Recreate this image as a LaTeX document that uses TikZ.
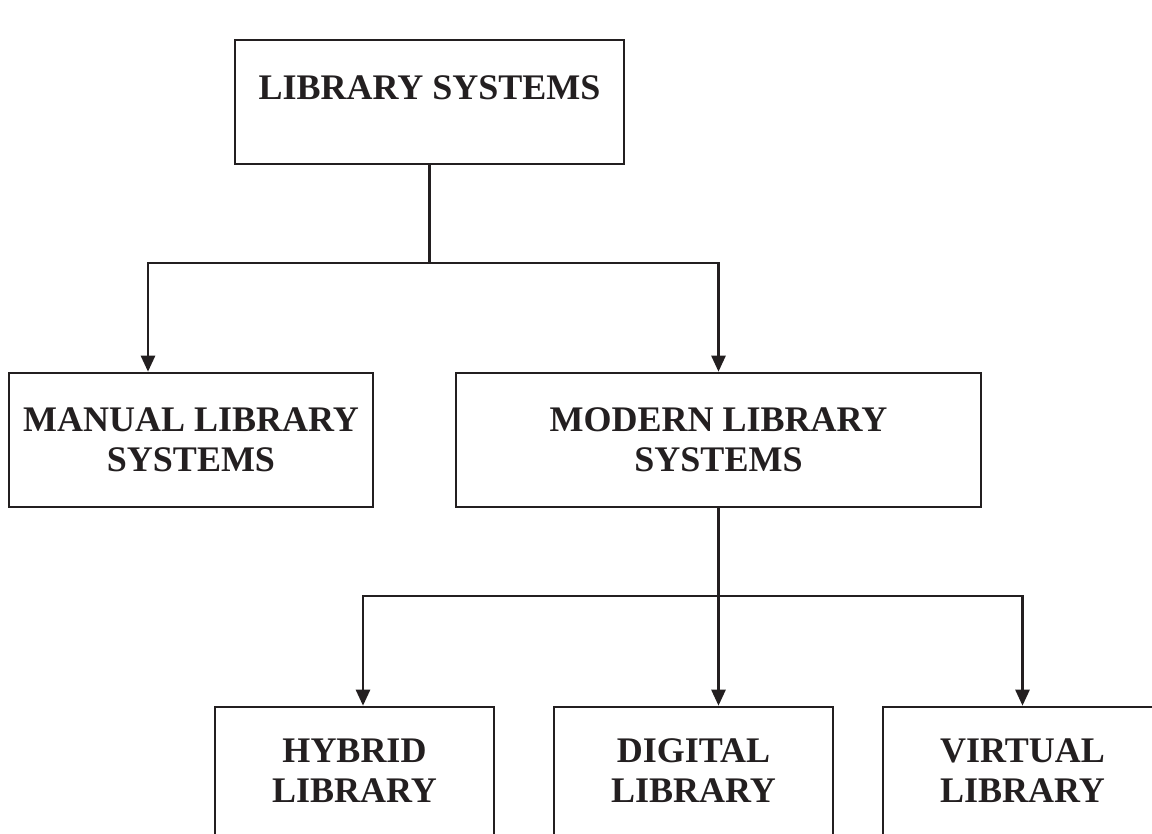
\documentclass[tikz,border=0pt]{standalone}
\usepackage{fontspec}
\setmainfont{Liberation Serif}
\usetikzlibrary{arrows.meta}
\definecolor{ink}{RGB}{35,31,32}

\begin{document}
\begin{tikzpicture}[x=1pt,y=-1pt,
    box/.style={draw=ink,line width=2.6pt,text=ink,align=center,inner sep=0pt,
      font=\bfseries\fontsize{36}{40}\selectfont},
    link/.style={draw=ink,line width=2.6pt},
    arr/.style={link,-{Triangle[length=16pt,width=14pt]}}]
  \useasboundingbox (0,0) rectangle (1152,834);
  \clip (0,0) rectangle (1152,834);
  % boxes
  \node[box,minimum width=389pt,minimum height=124pt,text height=24pt,
    text depth=28pt] (libsys) at (429.5,102) {LIBRARY SYSTEMS};
  \node[box,minimum width=364pt,minimum height=134pt] (manual) at (191,440)
    {MANUAL LIBRARY\\SYSTEMS};
  \node[box,minimum width=525pt,minimum height=134pt] (modern) at (718.5,440)
    {MODERN LIBRARY\\SYSTEMS};
  \node[box,minimum width=279pt,minimum height=128pt] (hybrid) at (354.5,771)
    {HYBRID\\LIBRARY};
  \node[box,minimum width=279pt,minimum height=128pt] (digital) at (693.5,771)
    {DIGITAL\\LIBRARY};
  \node[box,minimum width=279pt,minimum height=128pt] (virtual) at (1022.5,771)
    {VIRTUAL\\LIBRARY};
  % connectors
  \coordinate (split1) at (429.5,263); \coordinate (split2) at (718.5,596);
  \draw[link] (libsys.south) -- (split1);
  \draw[arr] (split1) -| ([xshift=-43pt]manual.north);
  \draw[arr] (split1) -| (modern.north);
  \draw[link] (modern.south) -- (split2);
  \draw[arr] (split2) -| ([xshift=8.5pt]hybrid.north);
  \draw[arr] (split2) -- (split2 |- digital.north);
  \draw[arr] (split2) -| (virtual.north);
\end{tikzpicture}
\end{document}
